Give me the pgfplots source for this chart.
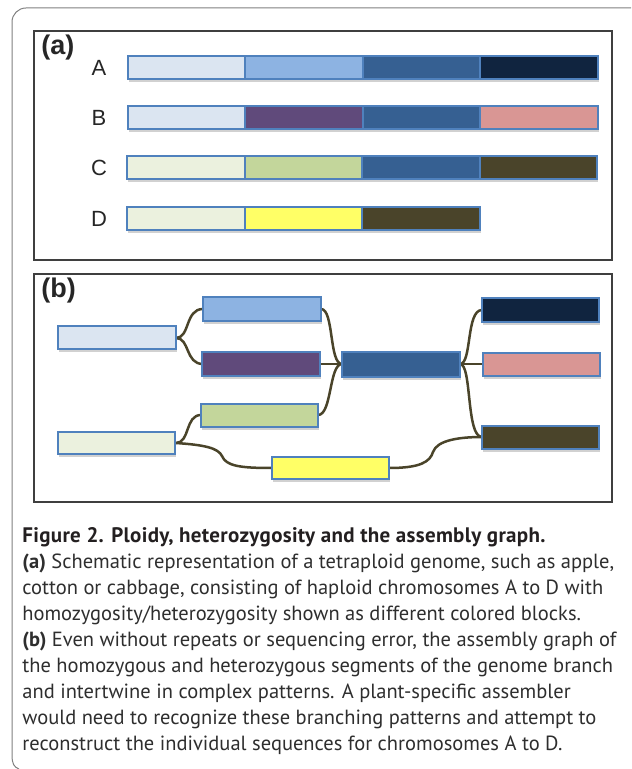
\documentclass[border=0pt]{standalone}
\usepackage{pgfplots}
\pgfplotsset{compat=1.18}
\usepackage{fontspec}
\setmainfont{Liberation Sans}
\newfontfamily\capfont{PT Sans}
\definecolor{ltblue}{HTML}{DBE5F1}
\definecolor{medblue}{HTML}{8DB3E2}
\definecolor{dkblue}{HTML}{366092}
\definecolor{navy}{HTML}{10243F}
\definecolor{purple}{HTML}{604A7B}
\definecolor{pink}{HTML}{D99694}
\definecolor{ltgreen}{HTML}{EBF1DE}
\definecolor{green}{HTML}{C3D69B}
\definecolor{olive}{HTML}{4A442A}
\definecolor{yellow}{HTML}{FFFF66}
\definecolor{bord}{HTML}{4F81BD}
\definecolor{conn}{HTML}{4A442A}
\definecolor{frame}{HTML}{3F3F3F}
\definecolor{txt}{HTML}{231F20}
\newcommand{\blk}[5]{%
  \addplot[draw=none,fill=black!18] coordinates {(#1+1,#2+3) (#3+1,#2+3) (#3+1,#4+3) (#1+1,#4+3)} -- cycle;
  \addplot[draw=bord,line width=0.75pt,fill=#5] coordinates {(#1,#2) (#3,#2) (#3,#4) (#1,#4)} -- cycle;
}
\begin{document}
\begin{tikzpicture}
\begin{axis}[at={(0,0)},anchor=south west,width=315.5pt,height=384.5pt,scale only axis,
  xmin=0,xmax=631,ymin=0,ymax=769,y dir=reverse,axis lines=none,clip=false]
% outer frame
\draw[black!50,line width=0.5pt] (axis cs:631,8) -- (axis cs:26,8) arc[start angle=90,end angle=180,radius=7pt] -- (axis cs:12,755) .. controls (axis cs:12,764) and (axis cs:14,767) .. (axis cs:19,769);
% panel frames
\addplot[draw=frame,line width=1pt] coordinates {(34,31) (612,31) (612,260) (34,260)} -- cycle;
\addplot[draw=frame,line width=1pt] coordinates {(34,274) (612,274) (612,502) (34,502)} -- cycle;
\node[anchor=base west,font=\fontsize{13.5pt}{13.5pt}\selectfont\bfseries,text=black!85,inner sep=0pt] at (axis cs:41,55) {(a)};
\node[anchor=base west,font=\fontsize{13.5pt}{13.5pt}\selectfont\bfseries,text=black!85,inner sep=0pt] at (axis cs:41,298) {(b)};
% row labels
\foreach \l/\yy in {A/68,B/118,C/168,D/219}{
  \edef\tmp{\noexpand\node[font=\noexpand\fontsize{11pt}{11pt}\noexpand\selectfont,text=black!85] at (axis cs:99,\yy) {\l};}\tmp
}
% (a) chromosomes
\blk{128}{56}{245}{79}{ltblue}
\blk{245}{56}{363}{79}{medblue}
\blk{363}{56}{480}{79}{dkblue}
\blk{480}{56}{598}{79}{navy}
\blk{128}{106}{245}{129}{ltblue}
\blk{245}{106}{363}{129}{purple}
\blk{363}{106}{480}{129}{dkblue}
\blk{480}{106}{598}{129}{pink}
\blk{127}{156}{245}{179}{ltgreen}
\blk{245}{156}{362}{179}{green}
\blk{362}{156}{480}{179}{dkblue}
\blk{480}{156}{597}{179}{olive}
\blk{127}{207}{245}{230}{ltgreen}
\blk{245}{207}{362}{230}{yellow}
\blk{362}{207}{480}{230}{olive}
% (b) connectors
\begin{scope}[conn,line width=1.25pt]
\draw (axis cs:176,338) .. controls (axis cs:190,338) and (axis cs:185,309) .. (axis cs:203,309);
\draw (axis cs:176,338) .. controls (axis cs:190,338) and (axis cs:185,364) .. (axis cs:203,364);
\draw (axis cs:321,309) .. controls (axis cs:334,309) and (axis cs:329,364) .. (axis cs:342,364);
\draw (axis cs:320,364) -- (axis cs:342,364);
\draw (axis cs:318,415) .. controls (axis cs:332,415) and (axis cs:329,364) .. (axis cs:342,364);
\draw (axis cs:176,443) .. controls (axis cs:190,443) and (axis cs:185,415) .. (axis cs:201,415);
\draw (axis cs:176,443) .. controls (axis cs:205,445) and (axis cs:218,448) .. (axis cs:222,456) .. controls (axis cs:226,466) and (axis cs:240,468) .. (axis cs:272,468);
\draw (axis cs:389,468) .. controls (axis cs:420,468) and (axis cs:430,462) .. (axis cs:433,452) .. controls (axis cs:437,440) and (axis cs:460,437) .. (axis cs:482,437);
\draw (axis cs:460,364) .. controls (axis cs:472,364) and (axis cs:466,310) .. (axis cs:482,310);
\draw (axis cs:460,364) -- (axis cs:483,364);
\draw (axis cs:460,364) .. controls (axis cs:472,364) and (axis cs:466,437) .. (axis cs:482,437);
\end{scope}
% (b) blocks
\blk{58}{326}{176}{349}{ltblue}
\blk{203}{297}{321}{321}{medblue}
\blk{202}{352}{320}{376}{purple}
\blk{342}{352}{460}{377}{dkblue}
\blk{482}{298}{599}{322}{navy}
\blk{483}{353}{600}{376}{pink}
\blk{482}{426}{599}{449}{olive}
\blk{58}{432}{175}{454}{ltgreen}
\blk{201}{404}{318}{427}{green}
\blk{272}{457}{389}{479}{yellow}
% caption
\begin{scope}[every node/.style={anchor=base west,inner sep=0pt,text=black!82,font=\capfont\fontsize{10.25pt}{12pt}\selectfont}]
\node[text=txt,font=\capfont\fontsize{10.5pt}{12pt}\selectfont\bfseries\addfontfeature{LetterSpace=1.5}] at (axis cs:22,542) {Figure 2. Ploidy, heterozygosity and the assembly graph.};
\node at (axis cs:22,568) {\textbf{(a)} Schematic representation of a tetraploid genome, such as apple,};
\node at (axis cs:22,594) {cotton or cabbage, consisting of haploid chromosomes A to D with};
\node at (axis cs:22,620) {homozygosity/heterozygosity shown as different colored blocks.};
\node at (axis cs:22,646) {\textbf{(b)} Even without repeats or sequencing error, the assembly graph of};
\node at (axis cs:22,672) {the homozygous and heterozygous segments of the genome branch};
\node at (axis cs:22,698) {and intertwine in complex patterns. A plant-specific assembler};
\node at (axis cs:22,724) {would need to recognize these branching patterns and attempt to};
\node at (axis cs:22,750) {reconstruct the individual sequences for chromosomes A to D.};
\end{scope}
\end{axis}
\pgfresetboundingbox
\path (0,0) rectangle (315.5pt,384.5pt);
\end{tikzpicture}
\end{document}
